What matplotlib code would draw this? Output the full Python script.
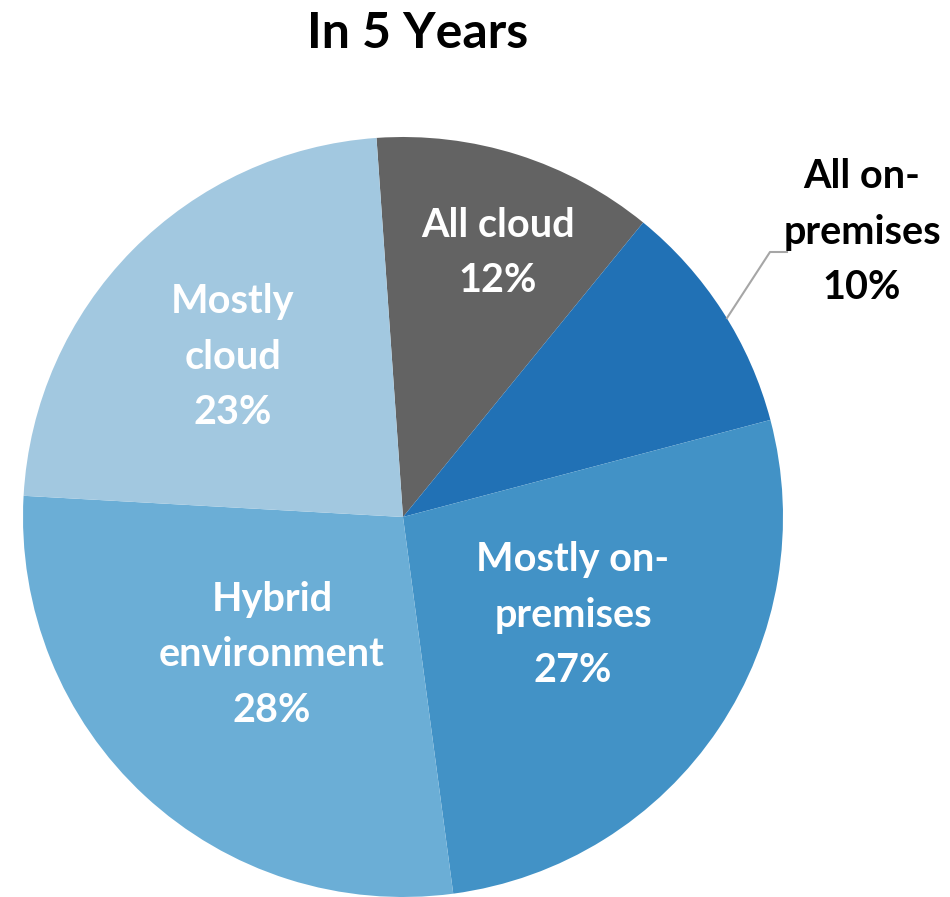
import matplotlib.pyplot as plt

labels = ["All cloud", "All on-\npremises", "Mostly on-\npremises", "Hybrid\nenvironment", "Mostly\ncloud"]
values = [12, 10, 27, 28, 23]
colors = ["#636363", "#2171b5", "#4292c6", "#6baed6", "#a2c8e0"]

# label positions in pixel coords (y from top)
label_pos = [(498, 253), (862, 232), (573, 615), (272, 655), (233, 357)]
label_col = ["white", "black", "white", "white", "white"]

H = 897
fig = plt.figure(figsize=(9.5, 8.97), dpi=100)
ax = fig.add_axes([0, 0, 1, 1])
ax.pie(values, colors=colors, startangle=94, counterclock=False,
       center=(403, H - 517), radius=380, frame=True,
       wedgeprops=dict(edgecolor="none"))
ax.set_xlim(0, 950)
ax.set_ylim(0, H)
ax.axis("off")

for lab, v, (x, y), c in zip(labels, values, label_pos, label_col):
    ax.text(x, H - y, f"{lab}\n{v}%", ha="center", va="center", color=c,
            fontsize=28.5, fontweight="bold", family="Lato", linespacing=1.62)

# leader line for the small slice
ax.plot([727, 770, 787], [H - 318, H - 252, H - 252], color="#a6a6a6", lw=1.5)

ax.text(418, H - 33, "In 5 Years", ha="center", va="center", fontsize=36,
        fontweight="bold", family="Lato")

fig.savefig("out.png", dpi=100)
